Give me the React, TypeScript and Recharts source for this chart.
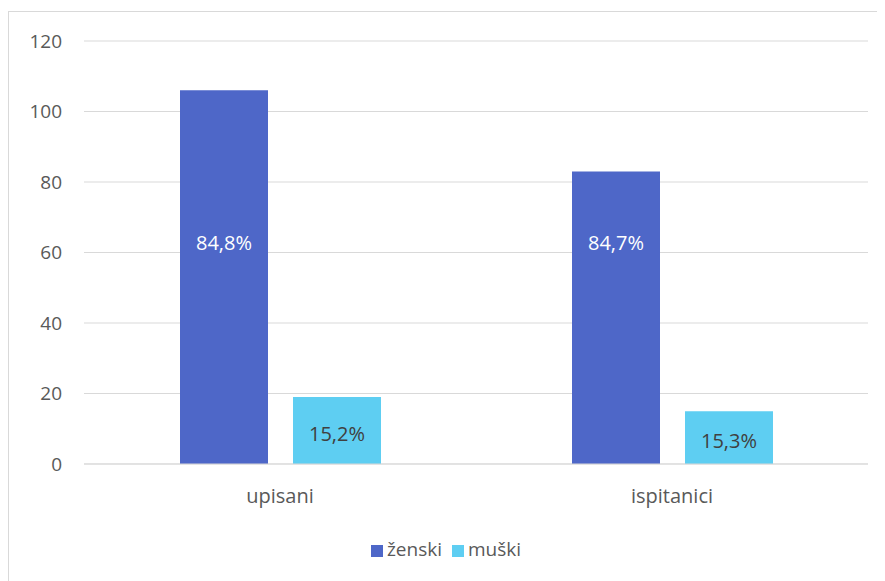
import { BarChart, Bar, XAxis, YAxis, CartesianGrid, Legend, LabelList } from "recharts"

const categories = ["upisani", "ispitanici"]
const zenski = [106, 83]
const muski = [19, 15]
const zenskiPct = ["84,8%", "84,7%"]
const muskiPct = ["15,2%", "15,3%"]
const yTicks = [0, 20, 40, 60, 80, 100, 120]
const seriesOrder = ["ženski", "muški"]

const data = categories.map((name, i) => ({
  name,
  zenski: zenski[i],
  muski: muski[i],
  zenskiPct: zenskiPct[i],
  muskiPct: muskiPct[i],
}))

const font = "Open Sans, sans-serif"

// labels in the tall bars sit at a fixed height above the baseline
const ZenskiLabel = (props: any) => {
  const { x, y, width, height, value } = props
  return (
    <text x={x + width / 2} y={y + height - 222} fill="#ffffff" fontSize={20} fontFamily={font} textAnchor="middle" dominantBaseline="central">
      {value}
    </text>
  )
}

const MuskiLabel = (props: any) => {
  const { x, y, width, height, value } = props
  return (
    <text x={x + width / 2} y={y + height / 2 + 3} fill="#404040" fontSize={20} fontFamily={font} textAnchor="middle" dominantBaseline="central">
      {value}
    </text>
  )
}

export default function App() {
  return (
    <div style={{ marginTop: 3, width: 877, height: 575, border: "1px solid #d9d9d9", background: "#fff" }}>
      <BarChart
        width={875}
        height={570}
        data={data}
        margin={{ top: 29, right: 16, left: 25, bottom: 10 }}
        barSize={88}
        barGap={25}
      >
        <CartesianGrid vertical={false} stroke="#d9d9d9" />
        <XAxis
          dataKey="name"
          axisLine={{ stroke: "#d9d9d9" }}
          tickLine={false}
          tick={{ fill: "#595959", fontSize: 20, fontFamily: font }}
          tickMargin={19}
          height={72}
        />
        <YAxis
          ticks={yTicks}
          domain={[0, 120]}
          axisLine={false}
          tickLine={false}
          tick={{ fill: "#595959", fontSize: 19, fontFamily: font }}
          width={50}
          tickMargin={16}
        />
        <Legend
          verticalAlign="bottom"
          iconType="square"
          iconSize={12}
          height={36}
          itemSorter={(item: any) => seriesOrder.indexOf(item.value)}
          wrapperStyle={{ fontFamily: font, fontSize: 19, color: "#595959" }}
          formatter={(value) => <span style={{ color: "#595959" }}>{value}</span>}
        />
        <Bar dataKey="zenski" name="ženski" fill="#4e67c8" isAnimationActive={false}>
          <LabelList dataKey="zenskiPct" content={ZenskiLabel} />
        </Bar>
        <Bar dataKey="muski" name="muški" fill="#5ecef2" isAnimationActive={false}>
          <LabelList dataKey="muskiPct" content={MuskiLabel} />
        </Bar>
      </BarChart>
    </div>
  )
}
